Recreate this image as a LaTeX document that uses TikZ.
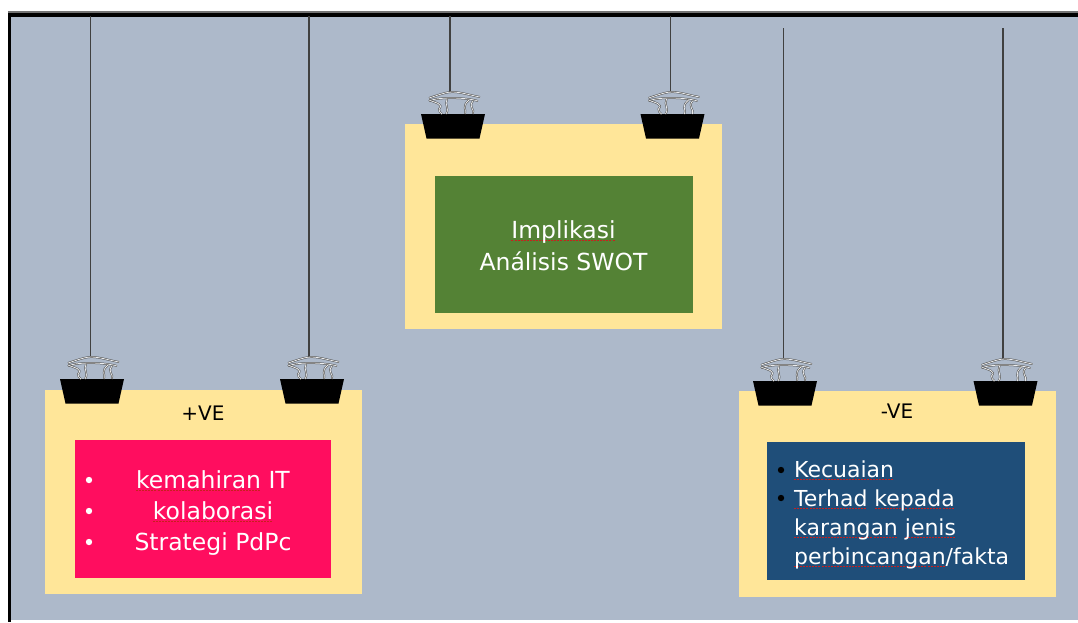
\documentclass[tikz,border=0pt]{standalone}
\usepackage{fontspec}
\setmainfont{DejaVu Sans}
\usetikzlibrary{calc}
\definecolor{bgc}{HTML}{ADB9CA}
\definecolor{cardc}{HTML}{FFE699}
\definecolor{pinkc}{HTML}{FF0D5F}
\definecolor{greenc}{HTML}{548235}
\definecolor{bluec}{HTML}{1F4E79}
\definecolor{redsq}{HTML}{C8201E}
\newcommand\sq[1]{\setbox0\hbox{#1}\rlap{\raisebox{-3pt}{\hbox to \wd0{\color{redsq}\xleaders\hbox{\rule{2pt}{1pt}\hskip1pt}\hfill}}}#1}
\newcommand\cardtext[1]{\fontsize{#1}{#1}\selectfont}
\tikzset{
  x=1pt,y=-1pt,
  card/.style={fill=cardc,draw=none,inner sep=0pt,anchor=north west},
  panel/.style={draw=none,inner sep=0pt,anchor=north west},
  stringline/.style={draw=black!75,line width=1.6pt},
  lab/.style={text=#1,inner sep=0pt,anchor=base},
  wire/.style={draw=black!70,line width=.5pt,double=black!8,double distance=.8pt},
  pics/clip/.style={code={
    \fill[black] (-32,0) -- (32,0) -- (26.5,24.5) -- (-26.5,24.5) -- cycle;
    \draw[wire] (-24,-16) .. controls (-12,-20) and (-6,-22) .. (-1,-22) .. controls (8,-22) and (16,-19) .. (27,-17);
    \draw[wire] (-24,-13) .. controls (-16,-17) and (12,-17) .. (25,-13);
    \draw[wire] (-24,-14) .. controls (-17,-11) and (-9,-10) .. (-14,-5) .. controls (-15,-3) and (-12,-1) .. (-11,0);
    \draw[wire] (-6,-15) .. controls (-9,-9) and (-3,-6) .. (-7,0);
    \draw[wire] (16,-14) .. controls (8,-7) and (14,-5) .. (12,0);
    \draw[wire] (20,-13) .. controls (15,-7) and (22,-5) .. (20,0);
  }}
}
\begin{document}
\begin{tikzpicture}
\useasboundingbox (0,0) rectangle (1078,622);
\fill[white] (0,0) rectangle (1078,622);
\fill[bgc] (9,15) rectangle (1078,620);
\fill[black!55] (8,11) rectangle (1078,13);
\fill[black] (8,12.5) rectangle (1078,16.5);
\fill[black] (8,12.5) rectangle (10.5,622);
\coordinate (t1) at (90.5,16);
\coordinate (t2) at (309,16);
\coordinate (t3) at (450,16);
\coordinate (t4) at (670.5,16);
\coordinate (t5) at (783.5,28);
\coordinate (t6) at (1003,28);
\node[card,minimum width=317pt,minimum height=204pt] (cardL) at (45,390) {};
\node[card,minimum width=317pt,minimum height=205pt] (cardM) at (405,124) {};
\node[card,minimum width=317pt,minimum height=206pt] (cardR) at (739,391) {};
\node[panel,fill=pinkc,minimum width=256pt,minimum height=138pt] (panelL) at (75,440) {};
\node[panel,fill=greenc,minimum width=258pt,minimum height=137pt] (panelM) at (435,176) {};
\node[panel,fill=bluec,minimum width=258pt,minimum height=138pt] (panelR) at (767,442) {};
\coordinate (h1) at (90.5,357); \coordinate (h2) at (309,357);
\coordinate (h3) at (450,92); \coordinate (h4) at (670.5,92);
\coordinate (h5) at (783.5,359); \coordinate (h6) at (1003,359);
\foreach \a/\b in {t1/h1,t2/h2,t3/h3,t4/h4,t5/h5,t6/h6} \draw[stringline] (\a) -- (\b);
\pic at (92,379) {clip}; \pic at (312,379) {clip};
\pic at (453,114) {clip}; \pic at (672.5,114) {clip};
\pic at (785,381) {clip}; \pic at (1005.5,381) {clip};
\node[lab=black,font=\cardtext{20}] (plus) at (203,420) {+VE};
\node[lab=black,font=\cardtext{20}] (minus) at (897,418) {-VE};
\node[lab=white,font=\cardtext{23.5}] (m1) at (563.5,238) {\sq{Implikasi}};
\node[lab=white,font=\cardtext{23.5}] (m2) at (563.5,270) {Análisis SWOT};
\foreach \y in {480,511,542} \fill[white] (89,\y) circle (3.2);
\node[lab=white,font=\cardtext{23.5}] (l1) at (213,488) {\sq{kemahiran} IT};
\node[lab=white,font=\cardtext{23.5}] (l2) at (213,519) {\sq{kolaborasi}};
\node[lab=white,font=\cardtext{23.5}] (l3) at (213,550) {Strategi PdPc};
\foreach \y in {470,498} \fill[black] (781,\y) circle (3.2);
\node[lab=white,font=\cardtext{22},anchor=base west] (r1) at (794,477) {\sq{Kecuaian}};
\node[lab=white,font=\cardtext{22},anchor=base west] (r2) at (794,506) {\sq{Terhad} \sq{kepada}};
\node[lab=white,font=\cardtext{22},anchor=base west] (r3) at (794,535) {\sq{karangan} \sq{jenis}};
\node[lab=white,font=\cardtext{22},anchor=base west] (r4) at (794,564) {\sq{perbincangan}/fakta};
\end{tikzpicture}
\end{document}
